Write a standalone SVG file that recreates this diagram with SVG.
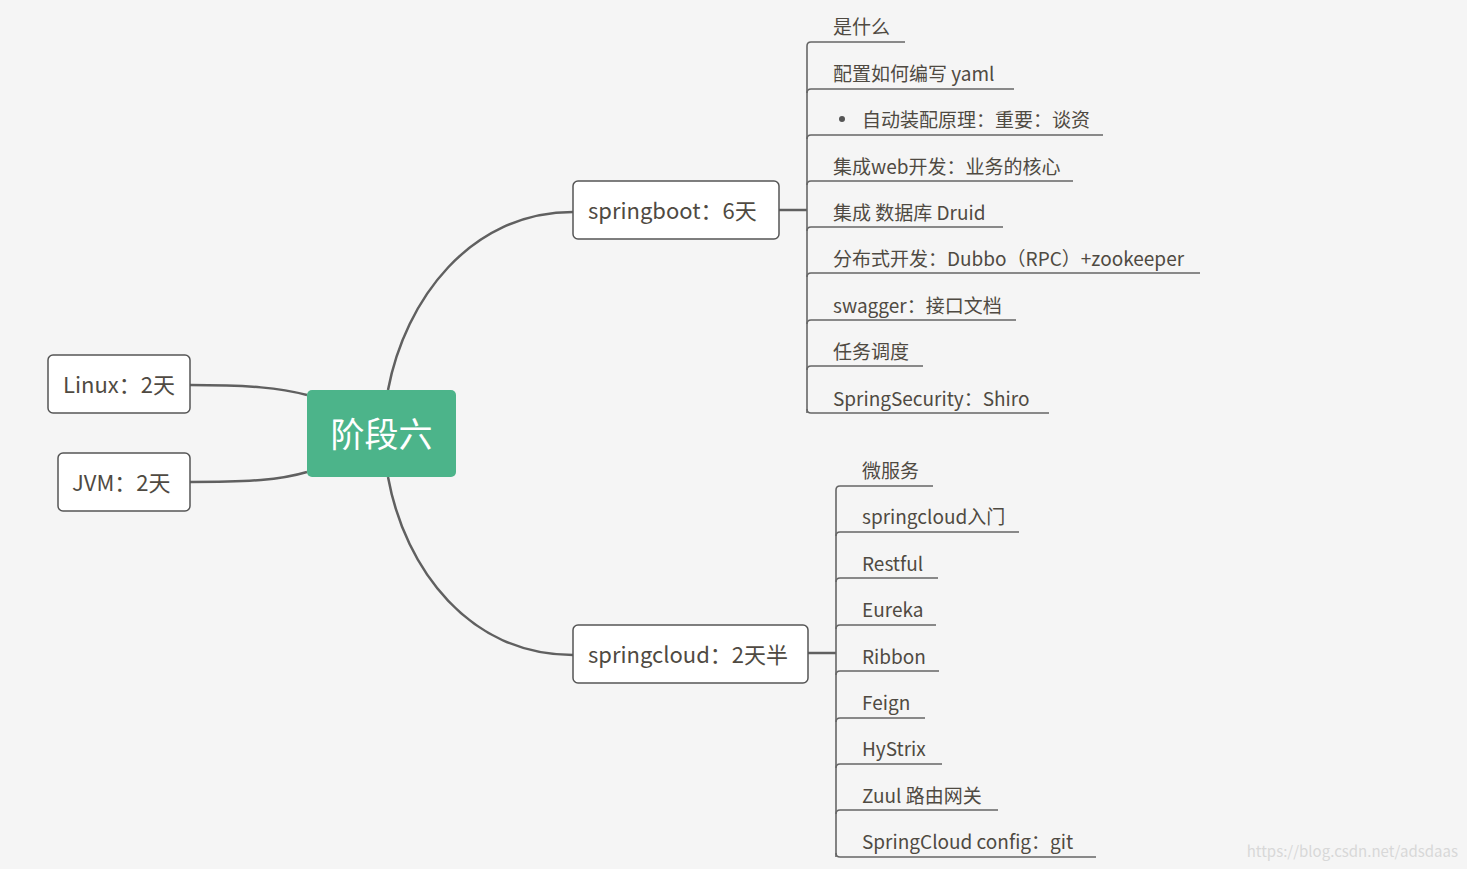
<svg xmlns="http://www.w3.org/2000/svg" width="1467" height="869" viewBox="0 0 1467 869">
<style>
text{font-family:"Microsoft YaHei","Noto Sans CJK SC","Open Sans",sans-serif;fill:#4f4a42}
.it{font-size:19px}
.box{fill:#fff;stroke:#555;stroke-width:1.5}
.c{fill:none;stroke:#606060;stroke-width:2.5}
.u{fill:none;stroke:#666;stroke-width:1.6}
.bt{font-size:22px}
</style>
<rect width="1467" height="869" fill="#f5f5f5"/>
<g id="connectors">
<path class="c" d="M388,390 C405,300 470,212 573,212"/>
<path class="c" d="M388,477 C405,570 470,655 573,655"/>
<path class="c" d="M190,385 C250,385 280,388 307,395"/>
<path class="c" d="M190,482 C250,482 280,480 307,472"/>
<path class="c" d="M779,210 H807"/>
<path class="c" d="M808,653 H836"/>
<path class="u" d="M807,46 V413"/>
<path class="u" d="M836,490 V857"/>
</g>
<g id="center"><rect x="307" y="390" width="149" height="87" rx="5" fill="#4cb48a"/><text x="381.5" y="447" text-anchor="middle" font-size="34" style="fill:#fff">阶段六</text></g>
<g id="linux"><rect class="box" x="48" y="355" width="142" height="58" rx="5"/><text class="bt" x="63" y="393">Linux：2天</text></g>
<g id="jvm"><rect class="box" x="58" y="453" width="132" height="58" rx="5"/><text class="bt" x="72" y="491">JVM：2天</text></g>
<g id="springboot"><rect class="box" x="573" y="181" width="206" height="58" rx="5"/><text class="bt" x="588" y="219">springboot：6天</text></g>
<g id="springcloud"><rect class="box" x="573" y="625" width="235" height="58" rx="5"/><text class="bt" x="588" y="663">springcloud：2天半</text></g>
<g id="sb-items">
<path class="u" d="M807,46 Q807,42 811,42 H905"/><text class="it" x="833" y="34">是什么</text>
<path class="u" d="M807,93 Q807,89 811,89 H1014"/><text class="it" x="833" y="81">配置如何编写  yaml</text>
<path class="u" d="M807,139 Q807,135 811,135 H1103"/><circle cx="842" cy="119" r="3" fill="#555"/><text class="it" x="862" y="127">自动装配原理：重要：谈资</text>
<path class="u" d="M807,185 Q807,181 811,181 H1073"/><text class="it" x="833" y="174">集成web开发：业务的核心</text>
<path class="u" d="M807,231 Q807,227 811,227 H1003"/><text class="it" x="833" y="220">集成 数据库 Druid</text>
<path class="u" d="M807,277 Q807,273 811,273 H1200"/><text class="it" x="833" y="266">分布式开发：Dubbo（RPC）+zookeeper</text>
<path class="u" d="M807,324 Q807,320 811,320 H1016"/><text class="it" x="833" y="313">swagger：接口文档</text>
<path class="u" d="M807,370 Q807,366 811,366 H923"/><text class="it" x="833" y="359">任务调度</text>
<path class="u" d="M807,409 Q807,413 811,413 H1049"/><text class="it" x="833" y="406">SpringSecurity：Shiro</text>
</g>
<g id="sc-items">
<path class="u" d="M836,490 Q836,486 840,486 H933"/><text class="it" x="862" y="478">微服务</text>
<path class="u" d="M836,536 Q836,532 840,532 H1019"/><text class="it" x="862" y="524">springcloud入门</text>
<path class="u" d="M836,582 Q836,578 840,578 H938"/><text class="it" x="862" y="571">Restful</text>
<path class="u" d="M836,629 Q836,625 840,625 H936"/><text class="it" x="862" y="617">Eureka</text>
<path class="u" d="M836,675 Q836,671 840,671 H939"/><text class="it" x="862" y="664">Ribbon</text>
<path class="u" d="M836,722 Q836,718 840,718 H925"/><text class="it" x="862" y="710">Feign</text>
<path class="u" d="M836,768 Q836,764 840,764 H942"/><text class="it" x="862" y="756">HyStrix</text>
<path class="u" d="M836,814 Q836,810 840,810 H998"/><text class="it" x="862" y="803">Zuul 路由网关</text>
<path class="u" d="M836,853 Q836,857 840,857 H1096"/><text class="it" x="862" y="849">SpringCloud config：git</text>
</g>
<text x="1458" y="857" text-anchor="end" font-size="15" style="fill:#d8d8d8">https://blog.csdn.net/adsdaas</text>
</svg>
